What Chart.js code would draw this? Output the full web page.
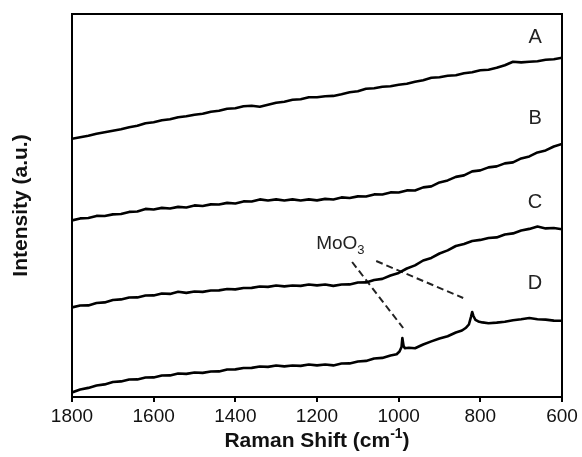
<!DOCTYPE html>
<html lang="en">

  <head>
    <meta charset="UTF-8">
    <title>Raman Spectra</title>
    <script src="https://cdn.jsdelivr.net/npm/chart.js@4"></script>
    <style>
      html, body { margin: 0; padding: 0; background: #fff; }
      #container { width: 582px; height: 457px; }
    </style>
  </head>

  <body>
    <div id="container"><canvas id="chart"></canvas></div>

    <script>
      const shift = [1800, 1780, 1760, 1740, 1720, 1700, 1680, 1660, 1640, 1620, 1600, 1580, 1560, 1540, 1520, 1500,
        1480, 1460, 1440, 1420, 1400, 1380, 1360, 1340, 1320, 1300, 1280, 1260, 1240, 1220, 1200, 1180, 1160, 1140,
        1120, 1100, 1080, 1060, 1040, 1020, 1000, 980, 960, 940, 920, 900, 880, 860, 840, 820, 800, 780, 760, 740,
        720, 700, 680, 660, 640, 620, 600]

      const spectrumA = [258.3, 259.8, 261.2, 263.3, 264.8, 266.3, 267.8, 269.8, 271.2, 273.8, 274.8, 276.7, 277.8,
        279.8, 280.8, 282.3, 283.3, 285.3, 286.2, 288.3, 288.8, 290.7, 291.2, 290.3, 292.2, 294.2, 295.3, 297.2, 297.8,
        299.7, 299.8, 300.7, 301.1, 302.8, 304.7, 305.8, 308.2, 308.8, 310.2, 310.8, 312.2, 313.3, 315.2, 316.8, 319.2,
        319.8, 321.2, 321.8, 323.7, 324.8, 326.7, 327.3, 329.2, 331.8, 335.2, 334.6, 335.2, 335.8, 337.2, 337.8, 339.3]

      const spectrumB = [176.6, 178.6, 179, 181.1, 181, 182.6, 183, 185.1, 185.5, 188.1, 187.5, 189.1, 188.5, 190.1,
        189.5, 191.6, 191, 192.6, 192.5, 194.1, 193.5, 195.6, 195.5, 197.6, 196.5, 197.6, 196.5, 197.6, 196.5, 197.6,
        196.6, 198.1, 197.5, 199.6, 199, 200.6, 200.5, 202.6, 202.5, 204.6, 204.5, 206.6, 206.5, 209.6, 210.6, 214.6,
        216.6, 220.1, 221.6, 225.6, 226.6, 229.6, 230.6, 233.6, 234.6, 238.6, 240.6, 244.6, 246.6, 250.5, 253]

      const spectrumC = [89.6, 91.5, 91.6, 94, 94.6, 97, 97.6, 99.5, 99.6, 101.5, 101.6, 103.5, 103.1, 105.2, 104.1,
        105.5, 105.1, 106.5, 106.6, 108, 107.6, 109, 109.1, 110.5, 110.1, 111.5, 110.6, 111.5, 111.1, 112.5, 111.6,
        112.5, 111.1, 112.5, 112.6, 114.5, 114.6, 117, 118.1, 121.5, 124.1, 128.5, 131.6, 136.5, 139.1, 143.5, 146.6,
        151, 153.1, 156, 157.1, 159, 159.6, 162.5, 163.6, 166.5, 168.1, 170.5, 168.6, 169, 167.8]

      const shiftD = [1800, 1780, 1760, 1740, 1720, 1700, 1680, 1660, 1640, 1620, 1600, 1580, 1560, 1540, 1520, 1500,
        1480, 1460, 1440, 1420, 1400, 1380, 1360, 1340, 1320, 1300, 1280, 1260, 1240, 1220, 1200, 1180, 1160, 1140,
        1120, 1100, 1080, 1060, 1040, 1020, 1005, 998, 993, 991, 988, 985, 975, 960, 940, 920, 900, 880, 860, 845, 835,
        828, 823, 820, 817, 812, 805, 795, 780, 760, 740, 720, 700, 680, 660, 640, 620, 600]

      const spectrumD = [4.6, 7.5, 9.1, 11.5, 12.6, 15, 15.6, 17.5, 17.6, 19.5, 19.6, 21.5, 21.6, 23.5, 23.1, 24.5,
        24.1, 25.5, 25.6, 27.5, 27.6, 29, 29.1, 30.5, 30.1, 31.5, 30.6, 31.5, 31.1, 32.5, 31.6, 32.5, 31.6, 33.5, 33.6,
        35.5, 36.1, 38.5, 39.1, 41.5, 42.8, 45.5, 50, 59, 51, 48.8, 49.3, 48.8, 52.5, 55.6, 58.5, 60.8, 64.5, 66.5, 69.3,
        72.5, 80, 85, 81, 77.2, 75.6, 74.6, 73.8, 74.4, 75.2, 76.8, 77.8, 79, 77.8, 77.4, 76.4, 76.2]

      const xTicks = [1800, 1600, 1400, 1200, 1000, 800, 600]

      const spectrumLabels = ['A', 'B', 'C', 'D']
      const labelShift = [666, 666, 666, 666]
      const labelIntensity = [360, 279, 195, 114]

      const moLabel = { shift: 1143, intensity: 153 }
      const pointerShift = [[1114, 989], [1055, 842]]
      const pointerIntensity = [[135, 69], [136, 99]]

      const toPoints = (xs, ys) => xs.map((x, i) => ({ x, y: ys[i] }))

      const lineStyle = {
        borderColor: '#000',
        borderWidth: 2.6,
        borderJoinStyle: 'round',
        pointRadius: 0,
        tension: 0,
        fill: false,
      }

      const datasets = [
        { label: 'A', data: toPoints(shift, spectrumA), ...lineStyle },
        { label: 'B', data: toPoints(shift, spectrumB), ...lineStyle },
        { label: 'C', data: toPoints(shift, spectrumC), ...lineStyle },
        { label: 'D', data: toPoints(shiftD, spectrumD), ...lineStyle },
      ]
      pointerShift.forEach((xs, i) => {
        datasets.push({
          label: 'pointer' + i,
          data: toPoints(xs, pointerIntensity[i]),
          ...lineStyle,
          borderWidth: 2,
          borderColor: '#222',
          borderDash: [7, 4],
        })
      })

      const textPlugin = {
        id: 'textPlugin',
        afterDraw(chart) {
          const { ctx, chartArea, scales: { x, y } } = chart
          ctx.save()

          ctx.strokeStyle = '#000'
          ctx.lineWidth = 2
          ctx.strokeRect(chartArea.left, chartArea.top, chartArea.right - chartArea.left, chartArea.bottom - chartArea.top)

          ctx.fillStyle = '#222'
          ctx.textAlign = 'center'
          ctx.textBaseline = 'middle'
          ctx.font = '20px "Liberation Sans", Arial, sans-serif'
          spectrumLabels.forEach((t, i) => {
            ctx.fillText(t, x.getPixelForValue(labelShift[i]), y.getPixelForValue(labelIntensity[i]))
          })

          ctx.font = '19px "Liberation Sans", Arial, sans-serif'
          ctx.textAlign = 'left'
          const mx = x.getPixelForValue(moLabel.shift)
          const my = y.getPixelForValue(moLabel.intensity)
          const moW = ctx.measureText('MoO').width
          const startX = mx - (moW + 7) / 2
          ctx.fillText('MoO', startX, my)
          ctx.font = '13px "Liberation Sans", Arial, sans-serif'
          ctx.fillText('3', startX + moW, my + 6)

          ctx.fillStyle = '#111'
          ctx.textBaseline = 'alphabetic'
          const main = 'Raman Shift (cm'
          ctx.font = 'bold 14px "Liberation Sans", Arial, sans-serif'
          const supW = ctx.measureText('-1').width
          ctx.font = 'bold 21px "Liberation Sans", Arial, sans-serif'
          const mainW = ctx.measureText(main).width
          const closeW = ctx.measureText(')').width
          const total = mainW + supW + closeW
          const cx = (chartArea.left + chartArea.right) / 2
          const by = 447
          let tx = cx - total / 2
          ctx.fillText(main, tx, by)
          tx += mainW
          ctx.font = 'bold 14px "Liberation Sans", Arial, sans-serif'
          ctx.fillText('-1', tx, by - 9)
          tx += supW
          ctx.font = 'bold 21px "Liberation Sans", Arial, sans-serif'
          ctx.fillText(')', tx, by)

          ctx.restore()
        }
      }

      new Chart(document.getElementById('chart'), {
        type: 'line',
        data: { datasets },
        options: {
          responsive: true,
          maintainAspectRatio: false,
          animation: false,
          layout: { padding: { top: 14, right: 20, left: 0, bottom: 0 } },
          plugins: {
            legend: { display: false },
            tooltip: { enabled: false },
          },
          scales: {
            x: {
              type: 'linear',
              reverse: true,
              min: 600,
              max: 1800,
              afterBuildTicks: (scale) => { scale.ticks = xTicks.map(v => ({ value: v })) },
              afterFit: (scale) => { scale.height = 60 },
              ticks: {
                color: '#111',
                padding: 3,
                maxRotation: 0,
                callback: (v) => String(v),
                font: { family: '"Liberation Sans", Arial, sans-serif', size: 19 },
              },
              grid: {
                display: true,
                drawOnChartArea: false,
                drawTicks: true,
                tickLength: 5,
                color: '#000',
                lineWidth: 2,
              },
              border: { display: false },
            },
            y: {
              min: 0,
              max: 383,
              afterFit: (scale) => { scale.width = 72 },
              ticks: { display: false },
              grid: { display: false },
              border: { display: false },
              title: {
                display: true,
                text: 'Intensity (a.u.)',
                color: '#111',
                padding: { top: 9, bottom: 0 },
                font: { family: '"Liberation Sans", Arial, sans-serif', size: 21, weight: 'bold' },
              },
            },
          },
        },
        plugins: [textPlugin],
      })
    </script>
  </body>

</html>
